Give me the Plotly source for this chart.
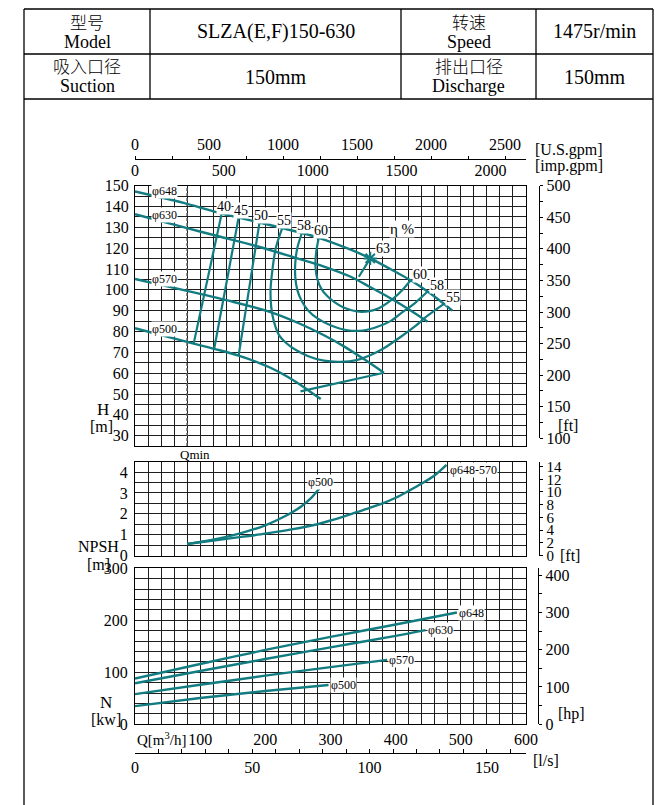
import numpy as np
import plotly.graph_objects as go

W, H = 668, 805
def px_x(p): return p / W
def px_y(p): return 1 - p / H

TEAL = '#127c80'
GRID = '#1e1e1e'
SERIF = 'Liberation Serif'
CJK = 'Noto Sans CJK SC'

# ---------------- data ----------------
Q_MIN = 80
q648 = [0, 80, 133, 159, 191, 226, 256, 282, 331, 361, 400, 423, 449, 474, 487]
h648 = [147.2, 141.3, 136.6, 134.7, 132.3, 129.7, 127.3, 125.0, 119.3, 115.1, 108.6, 104.6, 99.2, 93.3, 90.0]
q630 = [0, 80, 131, 190, 244, 290, 331, 360, 392, 420, 449]
h630 = [136.3, 129.6, 125.5, 120.7, 115.6, 111.2, 106.3, 101.5, 96.0, 90.7, 84.7]
q570 = [0, 80, 150, 208, 254, 290, 320, 350, 382]
h570 = [105.2, 99.5, 94.3, 89.3, 83.6, 78.2, 73.0, 67.0, 60.2]
q500 = [0, 80, 130, 159, 190, 208, 230, 249, 270, 285]
h500 = [81.6, 75.0, 71.0, 68.4, 65.0, 62.6, 59.0, 55.4, 50.9, 47.6]
dia_labels = ['φ648', 'φ630', 'φ570', 'φ500']

eta40_q = [90, 133];   eta40_h = [74.2, 136.6]
eta45_q = [121.5, 159]; eta45_h = [71.7, 134.7]
eta50_q = [159, 191];  eta50_h = [68.4, 132.3]
eta55_q = [226, 216, 211, 208, 209, 213, 221, 232, 245, 265, 290, 315, 340, 360, 382, 408, 430, 449, 474]
eta55_h = [129.7, 120, 110, 100, 92, 85, 78.3, 74.5, 71.5, 68.3, 66.0, 65.5, 66.3, 68.5, 72, 77.5, 82.6, 87.6, 93.3]
eta58_q = [256, 249, 246, 246, 249, 256, 266, 280, 300, 326, 350, 372, 392, 408, 430, 449]
eta58_h = [127.3, 120, 113, 106, 100, 94.5, 90, 86.3, 83, 80.6, 80.5, 82.3, 85, 88.7, 93.8, 99.2]
eta60_q = [282, 278, 277, 280, 286, 295, 305, 320, 341, 360, 375, 397, 410, 423]
eta60_h = [125.0, 118, 111, 105, 100.5, 97, 94.3, 91.5, 89.6, 89.8, 91.3, 96, 99.8, 104.6]
bep_q = [343.5, 361]; bep_h = [106.3, 115.1]
env_q = [254, 382];   env_h = [51.3, 60.2]

npsh_q1 = [80, 120, 160, 200, 240, 280, 300, 320, 340, 360, 380, 400, 420, 440, 460, 478]
npsh_1 = [0.55, 0.72, 0.88, 1.05, 1.25, 1.5, 1.68, 1.87, 2.08, 2.28, 2.5, 2.77, 3.1, 3.45, 3.85, 4.35]
npsh_q2 = [80, 120, 160, 200, 230, 255, 270, 285]
npsh_2 = [0.55, 0.76, 1.05, 1.45, 1.88, 2.35, 2.75, 3.3]

pq648 = [0, 100, 200, 300, 400, 494]; p648 = [88, 116, 143, 168, 192, 215]
pq630 = [0, 100, 200, 300, 400, 446]; p630 = [79, 102.5, 125.5, 148, 170, 181]
pq570 = [0, 100, 200, 300, 387];      p570 = [58, 76, 93.5, 110, 124]
pq500 = [0, 100, 200, 297];           p500 = [35, 50.5, 64, 75.6]

fig = go.Figure()

def curve(q, v, xa, ya, width=2.4, shape='spline'):
    fig.add_trace(go.Scatter(x=q, y=v, mode='lines', xaxis=xa, yaxis=ya,
                             line=dict(color=TEAL, width=width, shape=shape, smoothing=0.8),
                             hoverinfo='skip', showlegend=False))

fig.add_trace(go.Scatter(x=[Q_MIN, Q_MIN], y=[25, 150], mode='lines', xaxis='x', yaxis='y',
                         line=dict(color='#555555', width=1.6, dash='3px,2px'), hoverinfo='skip'))

for q, h in [(q648, h648), (q630, h630), (q570, h570), (q500, h500)]:
    curve(q, h, 'x', 'y')
for q, h in [(eta40_q, eta40_h), (eta45_q, eta45_h), (eta50_q, eta50_h),
             (eta55_q, eta55_h), (eta58_q, eta58_h), (eta60_q, eta60_h)]:
    curve(q, h, 'x', 'y', width=2.2)
curve(bep_q, bep_h, 'x', 'y', width=2.2, shape='linear')
curve(env_q, env_h, 'x', 'y', width=2.2, shape='linear')
fig.add_trace(go.Scatter(x=[bep_q[1]], y=[bep_h[1]], mode='markers', xaxis='x', yaxis='y',
                         marker=dict(symbol='asterisk-open', size=11, color=TEAL,
                                     line=dict(color=TEAL, width=2)),
                         hoverinfo='skip'))

curve(npsh_q1, npsh_1, 'x2', 'y3')
curve(npsh_q2, npsh_2, 'x2', 'y3')

for q, p in [(pq648, p648), (pq630, p630), (pq570, p570), (pq500, p500)]:
    curve(q, p, 'x5', 'y5')

for xa in ['x3', 'x4', 'x6']:
    fig.add_trace(go.Scatter(x=[None], y=[None], xaxis=xa, yaxis='y7', showlegend=False))
for ya in ['y2', 'y4', 'y6']:
    fig.add_trace(go.Scatter(x=[None], y=[None], xaxis='x7', yaxis=ya, showlegend=False))

TF = dict(family=SERIF, size=16, color='black')
base = dict(showgrid=True, gridcolor=GRID, gridwidth=1, showline=True, mirror=True,
            linecolor='black', linewidth=1.2, zeroline=False, ticks='', tickfont=TF,
            tickmode='array', fixedrange=True, automargin=False)
XD = [px_x(135), px_x(526)]

def arr(lo, hi, step, lab_every, skip=()):
    vals = list(np.round(np.arange(lo, hi + step / 2, step), 6))
    txt = []
    for v in vals:
        if abs(v / lab_every - round(v / lab_every)) < 1e-6 and v not in skip:
            txt.append(('%g' % v))
        else:
            txt.append('')
    return vals, txt

xv, xt = arr(0, 600, 20, 100)
yv, yt = arr(25, 150, 5, 10)
nv, nt = arr(0, 4.5, 0.5, 1)
pv, pt = arr(0, 300, 20, 100)
qv, qt = arr(0, 600, 20, 100, skip=(0.0,))

layout = dict(
    width=W, height=H, margin=dict(l=0, r=0, t=0, b=0, pad=0, autoexpand=False),
    paper_bgcolor='white', plot_bgcolor='rgba(0,0,0,0)', showlegend=False,
    xaxis=dict(base, domain=XD, range=[0, 600], anchor='y', tickvals=xv, showticklabels=False),
    yaxis=dict(base, domain=[px_y(446.1), px_y(185.7)], range=[25, 150], anchor='x',
               tickvals=yv, ticktext=yt, ticklabelstandoff=2),
    xaxis2=dict(base, domain=XD, range=[0, 600], anchor='y3', tickvals=xv, showticklabels=False),
    yaxis3=dict(base, domain=[px_y(555.5), px_y(461.7)], range=[0, 4.5], anchor='x2',
                tickvals=nv, ticktext=nt, ticklabelstandoff=3),
    xaxis5=dict(base, domain=XD, range=[0, 600], anchor='y5', tickvals=qv, ticktext=qt),
    yaxis5=dict(base, domain=[px_y(724.3), px_y(568.3)], range=[0, 300], anchor='x5',
                tickvals=pv, ticktext=pt, ticklabelstandoff=3),
    xaxis7=dict(visible=False, domain=[0, 1], anchor='y7', fixedrange=True),
    yaxis7=dict(visible=False, domain=[0, 1], anchor='x7', fixedrange=True),
)

free = dict(showline=True, linecolor='black', linewidth=1.2, showgrid=False, zeroline=False,
            tickmode='array', tickcolor='black', tickfont=TF, fixedrange=True, automargin=False)
gv, gt = arr(0, 2500, 250, 500)
layout['xaxis3'] = dict(free, domain=XD, range=[0, 600 * 4.4029], anchor='free', position=px_y(159.3),
                        side='top', tickvals=gv, ticktext=gt, ticks='outside', ticklen=3)
iv, it = arr(0, 2000, 500, 500)
layout['xaxis4'] = dict(free, domain=XD, range=[0, 600 * 3.6662], anchor='free', position=px_y(159.3),
                        side='bottom', showline=False, tickvals=iv, ticktext=it, ticks='')
lv, lt = arr(0, 160, 10, 50)
layout['xaxis6'] = dict(free, domain=XD, range=[0, 600 / 3.6], anchor='free', position=px_y(752.7),
                        side='bottom', tickvals=lv, ticktext=lt, ticks='inside', ticklen=4)
fv, ft = arr(100, 500, 25, 50)
layout['yaxis2'] = dict(free, domain=[px_y(438.3), px_y(185.7)], range=[100, 500], anchor='free',
                        position=px_x(539.3), side='right', tickvals=fv, ticktext=ft,
                        ticks='outside', ticklen=3)
nfv, nft = arr(0, 14, 2, 2)
layout['yaxis4'] = dict(free, domain=[px_y(555.5), px_y(461.7)], range=[0, 4.5 * 3.28084], anchor='free',
                        position=px_x(539.3), side='right', tickvals=nfv, ticktext=nft,
                        ticks='outside', ticklen=3, tickfont=dict(TF, size=15))
hv, ht = arr(0, 400, 50, 100)
layout['yaxis6'] = dict(free, domain=[px_y(724.3), px_y(568.3)], range=[0, 418], anchor='free',
                        position=px_x(538.3), side='right', tickvals=hv, ticktext=ht,
                        ticks='outside', ticklen=3)
fig.update_layout(**layout)

shapes = []
def seg(x0, y0, x1, y1, w=1.3):
    shapes.append(dict(type='line', xref='paper', yref='paper', x0=px_x(x0), y0=px_y(y0),
                       x1=px_x(x1), y1=px_y(y1), line=dict(color='black', width=w)))
seg(24, 9, 653, 9); seg(24, 54, 653, 54); seg(24, 99, 653, 99)
seg(24, 9, 24, 805); seg(653, 9, 653, 805)
for xx in [150, 401, 536]:
    seg(xx, 9, xx, 99)
fig.update_layout(shapes=shapes)

anns = []
def pa(text, x, y, size=16, family=SERIF, xanchor='center', yanchor='middle', weight=None):
    f = dict(family=family, size=size, color='black')
    if weight:
        f['weight'] = weight
    anns.append(dict(text=text, x=px_x(x), y=px_y(y), xref='paper', yref='paper', showarrow=False,
                     xanchor=xanchor, yanchor=yanchor, font=f))

pa('型号', 87, 22, 17, CJK, weight=300); pa('Model', 87, 42, 18)
pa('SLZA(E,F)150-630', 275.5, 31.5, 20)
pa('转速', 468.5, 22, 17, CJK, weight=300); pa('Speed', 468.5, 42, 18)
pa('1475r/min', 594.5, 31.5, 20)
pa('吸入口径', 87, 66, 17, CJK, weight=300); pa('Suction', 87, 86, 18)
pa('150mm', 275.5, 77, 20)
pa('排出口径', 468.5, 66, 17, CJK, weight=300); pa('Discharge', 468.5, 86, 18)
pa('150mm', 594.5, 77, 20)

pa('[U.S.gpm]', 533, 150, 16, xanchor='left')
pa('[imp.gpm]', 533, 166, 16, xanchor='left')
pa('H', 103, 410, 17); pa('[m]', 101, 426, 16)
pa('[ft]', 568, 425, 16)
pa('Qmin', 195, 454, 13)
pa('NPSH', 98, 546, 16); pa('[m]', 98, 564, 16)
pa('[ft]', 570, 555, 16)
pa('N', 106, 702, 17); pa('[kw]', 106, 719, 16)
pa('[hp]', 571, 714, 16)
pa('Q[m<sup>3</sup>/h]', 161, 739, 15)
pa('[l/s]', 546, 760, 16)

def da(text, x, y, xr='x', yr='y', size=12, xanchor='center', yanchor='middle', xs=0, ys=0, bg='white'):
    anns.append(dict(text=text, x=x, y=y, xref=xr, yref=yr, showarrow=False, xanchor=xanchor,
                     yanchor=yanchor, xshift=xs, yshift=ys, bgcolor=bg, borderpad=0,
                     font=dict(family=SERIF, size=size, color='black')))

for lab, (q, h) in zip(dia_labels, [(q648, h648), (q630, h630), (q570, h570), (q500, h500)]):
    da(lab, 45, float(np.interp(45, q, h)), ys=7, size=12)
for lab, q, h in [('40', eta40_q[-1], eta40_h[-1]), ('45', eta45_q[-1], eta45_h[-1]),
                  ('50', eta50_q[-1], eta50_h[-1]), ('55', eta55_q[0], eta55_h[0]),
                  ('58', eta58_q[0], eta58_h[0]), ('60', eta60_q[0], eta60_h[0])]:
    da(lab, q, h, size=14, xs=2, ys=7)
for lab, q, h in [('60', eta60_q[-1], eta60_h[-1]), ('58', eta58_q[-1], eta58_h[-1]),
                  ('55', eta55_q[-1], eta55_h[-1])]:
    da(lab, q, h, size=14, xanchor='left', xs=1, ys=6)
da('63', bep_q[1], bep_h[1], size=14, xanchor='left', xs=5, ys=10)
da('η %', 410, 129, size=15)

da('φ648-570', npsh_q1[-1], npsh_1[-1], xr='x2', yr='y3', xanchor='left', xs=2, ys=-5)
da('φ500', npsh_q2[-1], npsh_2[-1], xr='x2', yr='y3', yanchor='bottom', ys=-3)

for lab, q, p in [('φ648', pq648, p648), ('φ630', pq630, p630), ('φ570', pq570, p570), ('φ500', pq500, p500)]:
    da(lab, q[-1], p[-1], xr='x5', yr='y5', xanchor='left', xs=1, ys=0)

fig.update_layout(annotations=anns)
fig.write_html('out.html', config={'displayModeBar': False},
               post_script="document.body.style.margin='0';document.body.style.overflow='hidden';")
